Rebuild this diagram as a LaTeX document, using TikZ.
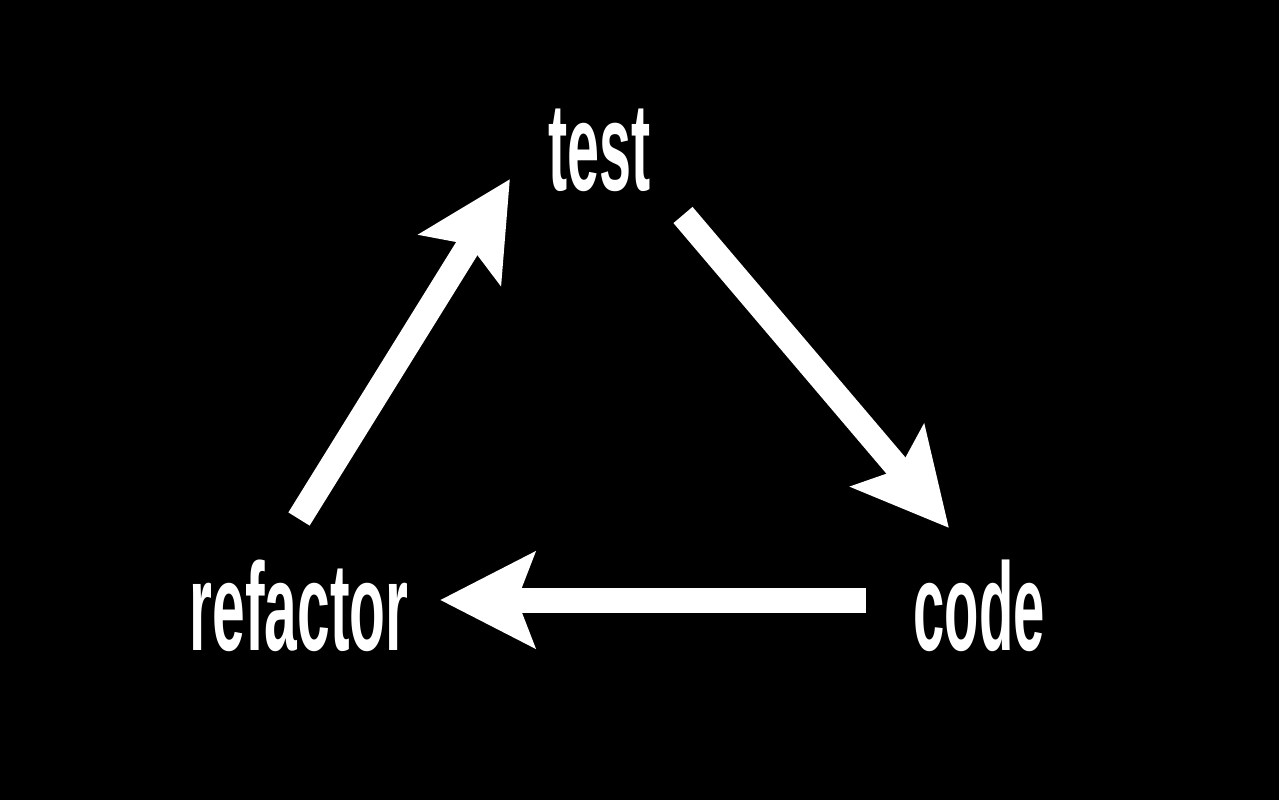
\documentclass[tikz,border=0pt]{standalone}
\usepackage{fontspec}
\setmainfont{Liberation Sans}
\usetikzlibrary{arrows.meta}
\tikzset{
  lbl/.style={text=white, anchor=base, inner sep=0pt, font=\fontsize{125}{125}\selectfont\bfseries},
  bigarrow/.style={draw=white, line width=25pt, line cap=butt,
    -{Stealth[length=94pt, width=94pt, inset=17pt]}}
}
\newcommand{\cond}[2]{\scalebox{#1}[1]{#2}}
\begin{document}
\begin{tikzpicture}[x=1pt,y=-1pt]
  \fill[black] (0,0) rectangle (1279,800);
  \useasboundingbox (0,0) rectangle (1279,800);
  \node[lbl] (test) at (599.5,190) {\cond{0.46}{test}};
  \node[lbl] (code) at (979,650) {\cond{0.45}{code}};
  \node[lbl] (refactor) at (299,650) {\cond{0.47}{refactor}};
  \coordinate (r1) at (299,519);
  \coordinate (t1) at (510,179);
  \coordinate (t2) at (683,215);
  \coordinate (c2) at (949,528);
  \coordinate (c3) at (866,600);
  \coordinate (r3) at (440,600);
  \draw[bigarrow] (r1) -- (t1);
  \draw[bigarrow] (t2) -- (c2);
  \draw[bigarrow] (c3) -- (r3);
\end{tikzpicture}
\end{document}
